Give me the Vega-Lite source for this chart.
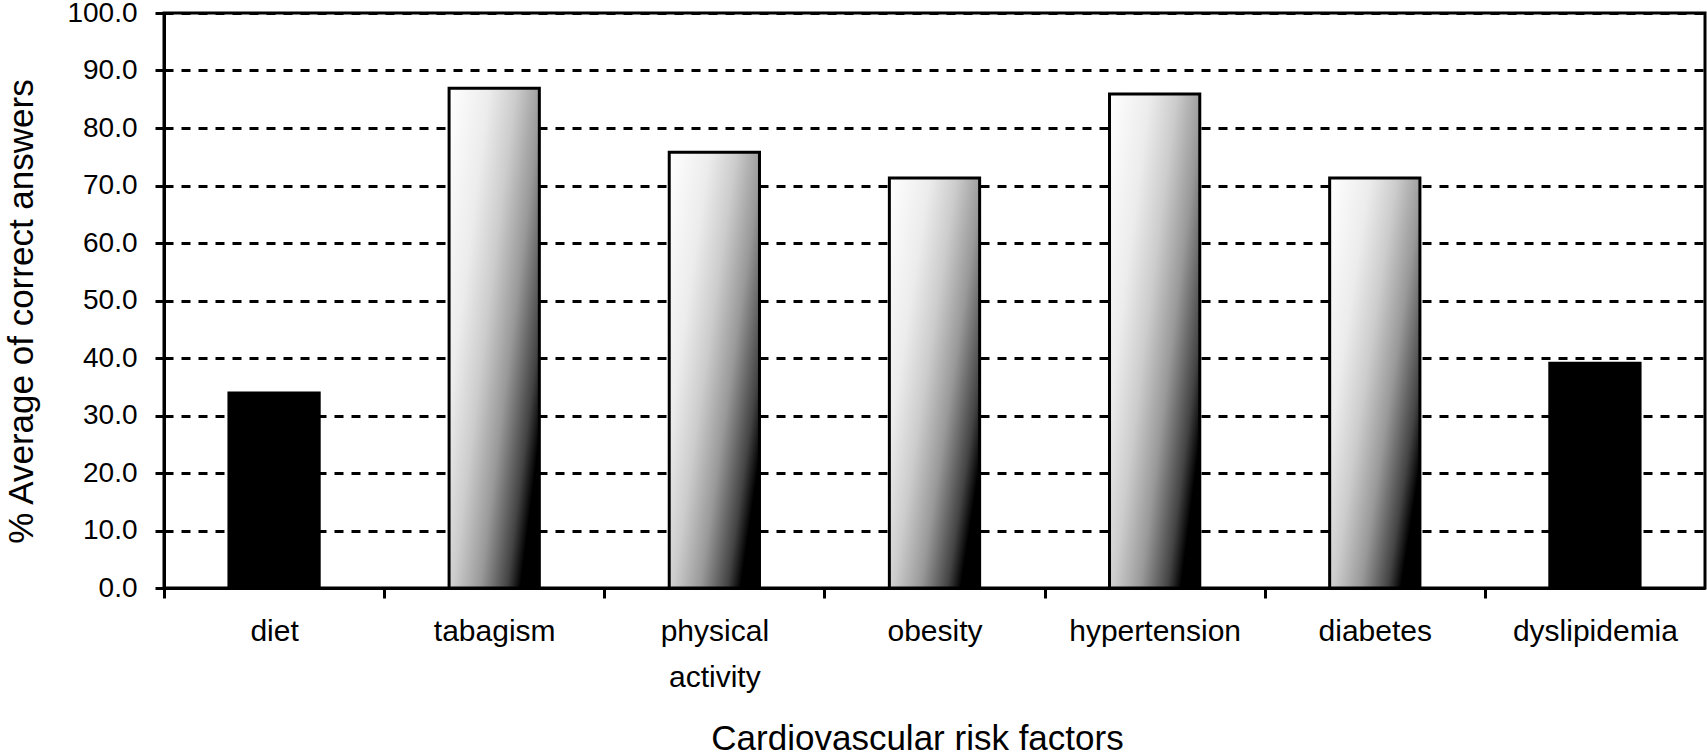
{
  "$schema": "https://vega.github.io/schema/vega-lite/v6.json",
  "width": 1541,
  "height": 575,
  "autosize": {"type": "none"},
  "padding": {"left": 164, "top": 13, "right": 2, "bottom": 167},
  "background": "white",
  "config": {
    "view": {"stroke": "black", "strokeWidth": 3},
    "font": "Liberation Sans"
  },
  "data": {
    "values": [
      {"factor": "diet", "value": 33.9},
      {"factor": "tabagism", "value": 86.9},
      {"factor": "physical activity", "value": 75.8},
      {"factor": "obesity", "value": 71.3},
      {"factor": "hypertension", "value": 85.9},
      {"factor": "diabetes", "value": 71.3},
      {"factor": "dyslipidemia", "value": 39.1}
    ]
  },
  "mark": {"type": "bar", "stroke": "black", "strokeWidth": 3},
  "encoding": {
    "x": {
      "field": "factor",
      "type": "nominal",
      "sort": null,
      "scale": {"paddingInner": 0.59, "paddingOuter": 0.295},
      "axis": {
        "title": "Cardiovascular risk factors",
        "labelAngle": 0,
        "tickOffset": -110.07,
        "labelOffset": 110.07,
        "domainColor": "black",
        "domainWidth": 3,
        "tickColor": "black",
        "tickWidth": 3,
        "tickSize": 10,
        "labelFontSize": 30,
        "labelColor": "black",
        "labelPadding": 18,
        "labelLineHeight": 46,
        "labelBaseline": "top",
        "labelExpr": "datum.label === 'physical activity' ? ['physical', 'activity'] : datum.label",
        "titleFontSize": 35,
        "titleFontWeight": "normal",
        "titleColor": "black",
        "titleX": 753,
        "titleY": 161,
        "titleAlign": "center",
        "titleBaseline": "alphabetic"
      }
    },
    "y": {
      "field": "value",
      "type": "quantitative",
      "scale": {"domain": [0, 100], "nice": false},
      "axis": {
        "title": "% Average of correct answers",
        "values": [0, 10, 20, 30, 40, 50, 60, 70, 80, 90, 100],
        "format": ".1f",
        "grid": true,
        "gridColor": "black",
        "gridWidth": 3,
        "gridDash": [9, 8],
        "gridOpacity": 1,
        "domainColor": "black",
        "domainWidth": 3,
        "tickColor": "black",
        "tickWidth": 3,
        "tickSize": 9,
        "labelFontSize": 28,
        "labelColor": "black",
        "labelPadding": 18,
        "titleFontSize": 35,
        "titleFontWeight": "normal",
        "titleColor": "black",
        "titleAngle": 270,
        "titleX": -160,
        "titleY": 298,
        "titleAlign": "center",
        "titleBaseline": "top"
      }
    },
    "fill": {
      "condition": {
        "test": "datum.factor === 'diet' || datum.factor === 'dyslipidemia'",
        "value": "black"
      },
      "value": {
        "gradient": "linear",
        "x1": 0, "y1": 0, "x2": 1, "y2": 0.7,
        "stops": [
          {"offset": 0, "color": "#ffffff"},
          {"offset": 0.3, "color": "#ececec"},
          {"offset": 0.5, "color": "#cccccc"},
          {"offset": 0.7, "color": "#999999"},
          {"offset": 0.9, "color": "#444444"},
          {"offset": 1, "color": "#000000"}
        ]
      }
    }
  }
}
